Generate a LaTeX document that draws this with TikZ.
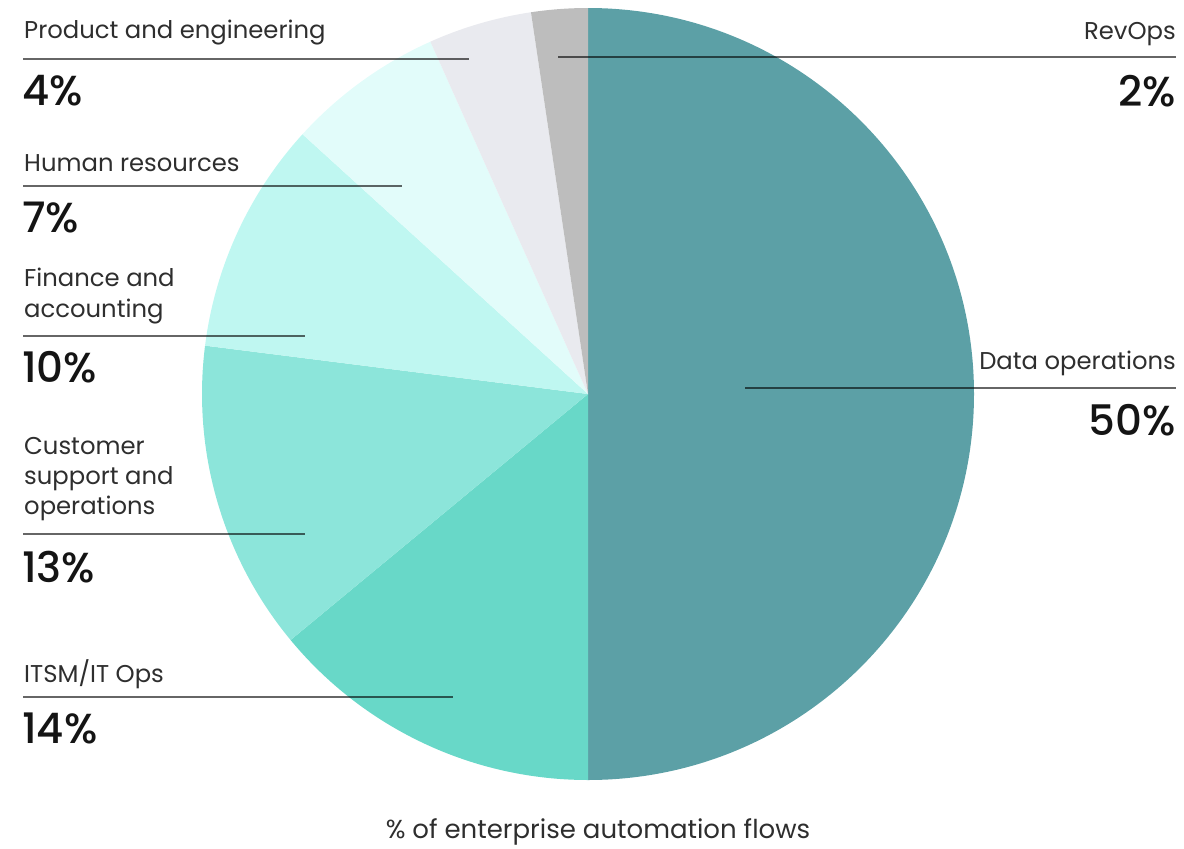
\documentclass[tikz,border=0pt]{standalone}
\usepackage{fontspec}
\setmainfont{Poppins}
\newfontfamily\pctfont{Poppins Medium}
\begin{document}
\begin{tikzpicture}[x=1pt,y=-1pt,
  lbl/.style={inner sep=0pt,font=\fontsize{24.3}{28}\selectfont,text=black!82},
  pct/.style={inner sep=0pt,font=\fontsize{42}{46}\pctfont,text=black!92},
  leader/.style={draw=black,draw opacity=0.6,line width=2pt}]
\useasboundingbox (0,0) rectangle (1184,849);
\definecolor{cData}{HTML}{5CA0A6}
\definecolor{cItsm}{HTML}{68D8C8}
\definecolor{cCust}{HTML}{8CE5DA}
\definecolor{cFin}{HTML}{BFF7F1}
\definecolor{cHr}{HTML}{E2FCFA}
\definecolor{cProd}{HTML}{E9EAEF}
\definecolor{cRev}{HTML}{BDBDBD}
\coordinate (C) at (588,394);
\def\R{386}
\fill[cData] (C) -- ++(-90:\R) arc[start angle=-90,end angle=90,radius=\R] -- cycle;
\fill[cItsm] (C) -- ++(90:\R) arc[start angle=90,end angle=140.4,radius=\R] -- cycle;
\fill[cCust] (C) -- ++(140.4:\R) arc[start angle=140.4,end angle=187.2,radius=\R] -- cycle;
\fill[cFin] (C) -- ++(187.2:\R) arc[start angle=187.2,end angle=222.3,radius=\R] -- cycle;
\fill[cHr] (C) -- ++(222.3:\R) arc[start angle=222.3,end angle=245.9,radius=\R] -- cycle;
\fill[cProd] (C) -- ++(245.9:\R) arc[start angle=245.9,end angle=261.5,radius=\R] -- cycle;
\fill[cRev] (C) -- ++(261.5:\R) arc[start angle=261.5,end angle=270,radius=\R] -- cycle;

% left labels
\node[lbl,anchor=base west] (tProd) at (24,38) {Product and engineering};
\coordinate (pA) at (23,59); \coordinate (pB) at (469,59);
\draw[leader] (pA) -- (pB);
\node[pct,anchor=base west] (nProd) at (22,105) {4\%};

\node[lbl,anchor=base west] (tHr) at (24,171) {Human resources};
\coordinate (hA) at (23,186); \coordinate (hB) at (402,186);
\draw[leader] (hA) -- (hB);
\node[pct,anchor=base west] (nHr) at (22,232) {7\%};

\node[lbl,anchor=base west] (tFin1) at (24,286) {Finance and};
\node[lbl,anchor=base west] (tFin2) at (24,317) {accounting};
\coordinate (fA) at (23,336); \coordinate (fB) at (305,336);
\draw[leader] (fA) -- (fB);
\node[pct,anchor=base west] (nFin) at (22,382) {10\%};

\node[lbl,anchor=base west] (tCus1) at (24,454) {Customer};
\node[lbl,anchor=base west] (tCus2) at (24,484) {support and};
\node[lbl,anchor=base west] (tCus3) at (24,514) {operations};
\coordinate (cA) at (23,534); \coordinate (cB) at (305,534);
\draw[leader] (cA) -- (cB);
\node[pct,anchor=base west] (nCus) at (22,582) {13\%};

\node[lbl,anchor=base west] (tIt) at (24,682) {ITSM/IT Ops};
\coordinate (iA) at (23,697); \coordinate (iB) at (453,697);
\draw[leader] (iA) -- (iB);
\node[pct,anchor=base west] (nIt) at (22,743) {14\%};

% right labels
\node[lbl,anchor=base east] (tRev) at (1176,39) {RevOps};
\coordinate (rA) at (558,57); \coordinate (rB) at (1176,57);
\draw[leader] (rA) -- (rB);
\node[pct,anchor=base east] (nRev) at (1176,106) {2\%};

\node[lbl,anchor=base east] (tData) at (1176,369) {Data operations};
\coordinate (dA) at (745,388); \coordinate (dB) at (1176,388);
\draw[leader] (dA) -- (dB);
\node[pct,anchor=base east] (nData) at (1176,435) {50\%};

\node[lbl,anchor=base,font=\fontsize{26}{30}\selectfont] (foot) at (598,838) {\% of enterprise automation flows};
\end{tikzpicture}
\end{document}
